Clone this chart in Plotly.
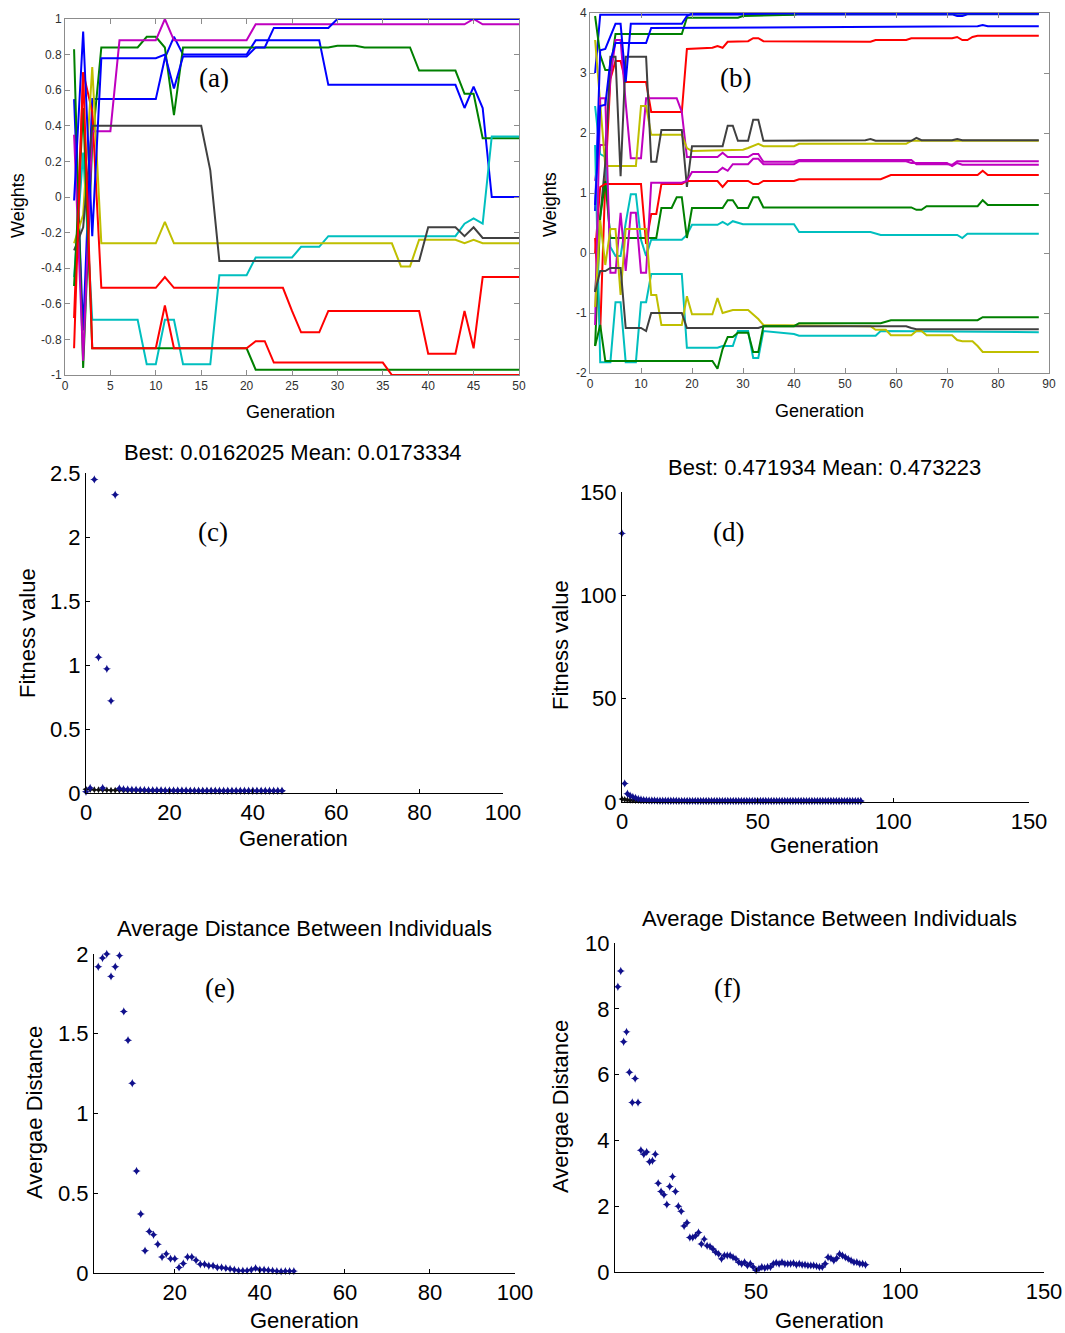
import plotly.graph_objects as go

W, H = 1065, 1333

# ---------------- Panel (a): weights vs generation (polyline vertices) ----------------
a_b1_gen = [1, 2, 3, 10, 11, 12, 13, 20, 21, 28, 29, 43, 44, 45, 46, 47, 50]
a_b1_w = [0.55, -0.75, 0.55, 0.55, 0.78, 0.9, 0.8, 0.8, 0.88, 0.88, 0.63, 0.63, 0.5, 0.62, 0.5, 0.0, 0.0]
a_g1_gen = [1, 2, 3, 4, 8, 9, 10, 11, 12, 13, 29, 30, 32, 33, 38, 39, 43, 44, 45, 46, 50]
a_g1_w = [0.83, -0.96, 0.3, 0.84, 0.84, 0.9, 0.9, 0.84, 0.46, 0.84, 0.84, 0.85, 0.85, 0.84, 0.84, 0.71, 0.71, 0.58, 0.58, 0.33, 0.33]
a_r1_gen = [1, 2, 3, 4, 10, 11, 12, 24, 25, 26, 28, 29, 39, 40, 43, 44, 45, 46, 50]
a_r1_w = [-0.68, 0.7, 0.48, -0.51, -0.51, -0.45, -0.51, -0.51, -0.64, -0.76, -0.76, -0.64, -0.64, -0.88, -0.88, -0.64, -0.85, -0.45, -0.45]
a_c1_gen = [1, 2, 3, 8, 9, 10, 11, 12, 13, 16, 17, 20, 21, 25, 26, 28, 29, 43, 44, 45, 46, 47, 50]
a_c1_w = [-0.45, 0.25, -0.69, -0.69, -0.94, -0.94, -0.69, -0.69, -0.94, -0.94, -0.44, -0.44, -0.34, -0.34, -0.28, -0.28, -0.22, -0.22, -0.15, -0.12, -0.15, 0.34, 0.34]
a_m1_gen = [1, 2, 3, 5, 6, 10, 11, 12, 20, 21, 44, 45, 46, 50]
a_m1_w = [0.35, -0.92, 0.37, 0.37, 0.88, 0.88, 1.0, 0.88, 0.88, 0.97, 0.97, 1.0, 0.97, 0.97]
a_y1_gen = [1, 2, 3, 4, 10, 11, 12, 36, 37, 38, 39, 43, 44, 45, 46, 50]
a_y1_w = [-0.26, -0.1, 0.73, -0.26, -0.26, -0.14, -0.26, -0.26, -0.39, -0.39, -0.24, -0.24, -0.26, -0.24, -0.26, -0.26]
a_k1_gen = [1, 2, 3, 15, 16, 17, 39, 40, 43, 44, 45, 46, 50]
a_k1_w = [-0.3, -0.17, 0.4, 0.4, 0.15, -0.36, -0.36, -0.17, -0.17, -0.22, -0.17, -0.23, -0.23]
a_b2_gen = [1, 2, 3, 4, 10, 11, 12, 13, 20, 21, 22, 23, 29, 30, 50]
a_b2_w = [-0.02, 0.93, -0.22, 0.78, 0.78, 0.8, 0.61, 0.79, 0.79, 0.84, 0.84, 0.95, 0.95, 1.0, 1.0]
a_g2_gen = [1, 2, 3, 20, 21, 50]
a_g2_w = [-0.5, 0.5, -0.85, -0.85, -0.97, -0.97]
a_r2_gen = [1, 2, 3, 10, 11, 12, 20, 21, 22, 23, 35, 36, 50]
a_r2_w = [-0.85, 0.7, -0.85, -0.85, -0.61, -0.85, -0.85, -0.81, -0.81, -0.93, -0.93, -1.0, -1.0]

# ---------------- Panel (b) ----------------
b_ba_gen = [1, 2, 71, 72, 73, 74, 88]
b_ba_w = [3.0, 3.97, 3.98, 3.95, 3.95, 3.98, 3.98]
b_ga_gen = [1, 2, 3, 4, 5, 18, 19, 29, 30, 40, 41, 88]
b_ga_w = [3.95, 3.3, 3.05, 3.05, 3.65, 3.65, 3.92, 3.92, 3.95, 3.97, 3.99, 3.99]
b_ra_gen = [1, 2, 3, 4, 5, 6, 7, 11, 12, 18, 19, 24, 25, 26, 27, 31, 32, 33, 34, 55, 56, 62, 63, 71, 72, 73, 74, 75, 76, 88]
b_ra_w = [0.25, -1.3, 1.2, 2.9, 3.2, 3.2, 2.85, 2.85, 2.35, 2.35, 3.4, 3.42, 3.45, 3.42, 3.52, 3.53, 3.58, 3.58, 3.53, 3.52, 3.55, 3.55, 3.58, 3.58, 3.6, 3.55, 3.55, 3.6, 3.62, 3.62]
b_ca_gen = [1, 2, 3, 4, 5, 6, 7, 8, 9, 10, 11, 12, 18, 19, 20, 25, 26, 27, 28, 29, 30, 40, 41, 55, 56, 57, 72, 73, 74, 88]
b_ca_w = [2.45, 1.65, 1.6, 0.1, -0.05, -0.05, 0.5, 0.98, 0.98, 0.22, -0.05, 0.22, 0.22, 0.3, 0.47, 0.47, 0.52, 0.47, 0.53, 0.5, 0.48, 0.48, 0.35, 0.35, 0.32, 0.3, 0.3, 0.25, 0.32, 0.32]
b_ma_gen = [1, 2, 3, 4, 5, 6, 7, 8, 10, 11, 17, 18, 19, 25, 26, 27, 31, 32, 33, 34, 40, 41, 63, 64, 70, 71, 72, 88]
b_ma_w = [1.2, 1.8, 1.8, 2.9, 3.55, 3.55, 2.5, 1.58, 1.58, 2.58, 2.58, 2.35, 1.6, 1.6, 1.67, 1.6, 1.6, 1.65, 1.65, 1.52, 1.52, 1.55, 1.55, 1.48, 1.48, 1.47, 1.53, 1.53]
b_ya_gen = [1, 2, 3, 9, 10, 11, 12, 18, 19, 20, 30, 31, 32, 33, 34, 40, 41, 62, 63, 88]
b_ya_w = [3.55, 2.5, 1.45, 1.45, 2.45, 2.45, 1.97, 1.97, 1.75, 1.7, 1.72, 1.75, 1.78, 1.82, 1.78, 1.78, 1.82, 1.82, 1.87, 1.87]
b_ka_gen = [1, 2, 3, 4, 5, 6, 7, 11, 12, 13, 14, 18, 19, 20, 26, 27, 28, 29, 31, 32, 33, 34, 54, 55, 56, 63, 64, 65, 71, 72, 73, 88]
b_ka_w = [-0.65, 0.6, 1.5, 3.27, 3.27, 1.28, 3.27, 3.27, 1.52, 1.52, 2.05, 2.05, 1.1, 1.78, 1.78, 2.12, 2.12, 1.87, 1.87, 2.22, 2.22, 1.87, 1.88, 1.9, 1.87, 1.87, 1.92, 1.88, 1.88, 1.9, 1.88, 1.88]
b_bb_gen = [1, 2, 3, 4, 5, 6, 7, 8, 18, 19, 20, 88]
b_bb_w = [0.7, 3.38, 3.4, 3.6, 3.82, 3.82, 2.85, 3.82, 3.82, 3.95, 3.99, 3.99]
b_gc_gen = [1, 2, 3, 4, 13, 14, 16, 17, 18, 19, 20, 26, 27, 28, 29, 31, 32, 33, 34, 63, 64, 65, 66, 76, 77, 78, 88]
b_gc_w = [-1.55, 0.6, 1.2, 0.25, 0.25, 0.75, 0.75, 0.93, 0.93, 0.25, 0.75, 0.75, 0.88, 0.88, 0.75, 0.75, 0.93, 0.93, 0.76, 0.76, 0.72, 0.72, 0.78, 0.78, 0.88, 0.8, 0.8]
b_rb_gen = [1, 2, 3, 10, 11, 12, 13, 14, 18, 19, 25, 26, 27, 31, 32, 33, 34, 40, 41, 57, 59, 76, 77, 78, 88]
b_rb_w = [0.0, 1.1, 1.15, 1.15, 0.15, 0.65, 0.65, 1.15, 1.15, 1.2, 1.2, 1.1, 1.2, 1.2, 1.15, 1.15, 1.2, 1.2, 1.23, 1.23, 1.3, 1.3, 1.37, 1.3, 1.3]
b_cb_gen = [1, 2, 4, 5, 6, 7, 9, 10, 11, 12, 18, 19, 25, 26, 28, 29, 31, 32, 33, 34, 40, 41, 56, 57, 88]
b_cb_w = [1.8, -1.82, -1.82, -0.82, -0.82, -1.82, -1.82, -0.82, -0.82, -0.35, -0.35, -1.58, -1.58, -1.55, -1.55, -1.3, -1.3, -1.75, -1.75, -1.3, -1.35, -1.38, -1.38, -1.3, -1.32]
b_mb_gen = [1, 2, 3, 4, 5, 6, 7, 8, 9, 10, 11, 12, 18, 19, 20, 25, 26, 27, 28, 31, 32, 33, 34, 40, 41, 62, 63, 70, 71, 72, 73, 88]
b_mb_w = [-1.2, 2.58, 2.58, -0.33, -0.33, 0.67, -0.3, 0.67, 0.67, -0.33, -0.33, 1.17, 1.17, 1.2, 1.35, 1.35, 1.42, 1.37, 1.48, 1.48, 1.57, 1.57, 1.48, 1.48, 1.53, 1.53, 1.5, 1.5, 1.45, 1.5, 1.47, 1.47]
b_yb_gen = [1, 2, 3, 4, 5, 6, 7, 11, 12, 13, 14, 18, 19, 20, 24, 25, 26, 27, 28, 31, 32, 33, 34, 55, 56, 58, 59, 63, 64, 65, 66, 71, 72, 73, 75, 76, 77, 88]
b_yb_w = [-0.9, 0.55, -0.2, 0.4, 0.4, -0.7, 0.4, 0.4, -0.7, -0.7, -1.2, -1.2, -0.72, -1.02, -1.02, -0.75, -1.0, -0.98, -0.95, -0.95, -1.02, -1.1, -1.2, -1.22, -1.28, -1.28, -1.37, -1.37, -1.3, -1.3, -1.37, -1.37, -1.45, -1.47, -1.47, -1.55, -1.65, -1.65]
b_kb_gen = [1, 2, 3, 4, 6, 7, 10, 11, 12, 18, 19, 33, 34, 62, 63, 64, 88]
b_kb_w = [-0.65, -0.3, -0.3, -0.25, -0.25, -1.25, -1.25, -1.3, -1.0, -1.0, -1.25, -1.25, -1.22, -1.22, -1.25, -1.27, -1.27]
b_bc_gen = [1, 2, 3, 4, 5, 11, 12, 48, 50, 52, 76, 77, 78, 88]
b_bc_w = [0.8, 2.45, 2.47, 3.2, 3.5, 3.5, 3.75, 3.77, 3.76, 3.77, 3.78, 3.8, 3.78, 3.78]
b_gd_gen = [1, 2, 3, 24, 25, 26, 27, 28, 29, 31, 32, 33, 34, 40, 41, 57, 59, 76, 77, 88]
b_gd_w = [-1.55, -1.2, -1.8, -1.8, -1.93, -1.6, -1.4, -1.4, -1.33, -1.33, -1.65, -1.65, -1.22, -1.22, -1.17, -1.17, -1.12, -1.12, -1.07, -1.07]

# ---------------- Panel (c): fitness, generations 0..47 ----------------
c_gen = list(range(0, 48))
c_mean = [0.01, 0.04, 2.45, 1.06, 0.04, 0.97, 0.72, 2.33, 0.035, 0.03,
          0.028, 0.026, 0.025, 0.024, 0.023, 0.022, 0.022, 0.021, 0.021, 0.02,
          0.02, 0.02, 0.0195, 0.019, 0.019, 0.0188, 0.0186, 0.0184, 0.0182, 0.018,
          0.018, 0.0179, 0.0178, 0.0178, 0.0177, 0.0177, 0.0176, 0.0176, 0.0175, 0.0175,
          0.0175, 0.0174, 0.0174, 0.0174, 0.0174, 0.0173, 0.0173, 0.0173]
c_best = [0.03, 0.028, 0.026, 0.025, 0.024, 0.023, 0.022, 0.021, 0.021, 0.02,
          0.02, 0.0195, 0.019, 0.019, 0.0185, 0.0183, 0.018, 0.018, 0.0178, 0.0176,
          0.0175, 0.0174, 0.0173, 0.0172, 0.0171, 0.017, 0.017, 0.0169, 0.0168, 0.0168,
          0.0167, 0.0167, 0.0166, 0.0166, 0.0165, 0.0165, 0.0164, 0.0164, 0.0164, 0.0163,
          0.0163, 0.0163, 0.0163, 0.0162, 0.0162, 0.0162, 0.0162, 0.0162]

# ---------------- Panel (d): fitness, generations 0..88 ----------------
d_gen = list(range(0, 89))
d_mean = [130, 9, 4, 3, 2.5, 2, 1.5, 1.2, 1.0, 0.9,
          0.8, 0.75, 0.7, 0.68, 0.65, 0.63, 0.62, 0.6, 0.59, 0.58,
          0.57, 0.56, 0.55, 0.55, 0.54, 0.54, 0.53, 0.53, 0.52, 0.52,
          0.52, 0.51, 0.51, 0.51, 0.5, 0.5, 0.5, 0.5, 0.49, 0.49,
          0.49, 0.49, 0.49, 0.48, 0.48, 0.48, 0.48, 0.48, 0.48, 0.48,
          0.48, 0.478, 0.478, 0.477, 0.477, 0.477, 0.476, 0.476, 0.476, 0.476,
          0.475, 0.475, 0.475, 0.475, 0.475, 0.474, 0.474, 0.474, 0.474, 0.474,
          0.474, 0.474, 0.474, 0.4735, 0.4735, 0.4735, 0.4735, 0.4735, 0.4735, 0.4733,
          0.4733, 0.4733, 0.4733, 0.4732, 0.4732, 0.4732, 0.4732, 0.4732, 0.4732]
d_best = [1.5, 1.2, 1.0, 0.9, 0.8, 0.75, 0.7, 0.66, 0.63, 0.6,
          0.58, 0.56, 0.55, 0.54, 0.53, 0.52, 0.52, 0.51, 0.51, 0.5,
          0.5, 0.5, 0.49, 0.49, 0.49, 0.49, 0.485, 0.485, 0.485, 0.48,
          0.48, 0.48, 0.48, 0.478, 0.478, 0.478, 0.477, 0.477, 0.477, 0.476,
          0.476, 0.476, 0.475, 0.475, 0.475, 0.475, 0.474, 0.474, 0.474, 0.474,
          0.474, 0.4735, 0.4735, 0.4735, 0.4733, 0.4733, 0.4733, 0.4731, 0.4731, 0.4731,
          0.473, 0.473, 0.473, 0.4728, 0.4728, 0.4728, 0.4726, 0.4726, 0.4726, 0.4725,
          0.4725, 0.4724, 0.4724, 0.4723, 0.4723, 0.4722, 0.4722, 0.4721, 0.4721, 0.4721,
          0.472, 0.472, 0.472, 0.472, 0.4719, 0.4719, 0.4719, 0.4719, 0.4719]

# ---------------- Panel (e): average distance, generations 2..48 ----------------
e_gen = list(range(2, 49))
e_dist = [1.92, 1.975, 2.0, 1.86, 1.92, 1.99, 1.64, 1.46, 1.19, 0.64,
          0.37, 0.14, 0.26, 0.24, 0.18, 0.10, 0.12, 0.09, 0.09, 0.035,
          0.06, 0.10, 0.10, 0.08, 0.055, 0.055, 0.045, 0.045, 0.035, 0.035,
          0.03, 0.025, 0.02, 0.015, 0.015, 0.015, 0.02, 0.03, 0.02, 0.02,
          0.018, 0.015, 0.012, 0.01, 0.012, 0.012, 0.012]

# ---------------- Panel (f): average distance, generations 2..88 ----------------
f_gen = list(range(2, 89))
f_dist = [8.67, 9.15, 7.0, 7.3, 6.07, 5.15, 5.88, 5.15, 3.7, 3.58,
          3.65, 3.35, 3.38, 3.58, 2.7, 2.45, 2.35, 2.05, 2.6, 2.9,
          2.45, 2.0, 1.85, 1.4, 1.5, 1.05, 1.05, 1.1, 1.2, 0.85,
          1.0, 0.8, 0.78, 0.7, 0.6, 0.55, 0.4, 0.5, 0.5, 0.5,
          0.45, 0.4, 0.3, 0.25, 0.3, 0.2, 0.25, 0.15, 0.05, 0.1,
          0.15, 0.12, 0.15, 0.15, 0.25, 0.28, 0.25, 0.3, 0.25, 0.25,
          0.25, 0.27, 0.22, 0.25, 0.22, 0.22, 0.2, 0.2, 0.2, 0.18,
          0.15, 0.15, 0.25, 0.45, 0.42, 0.35, 0.42, 0.55, 0.5, 0.45,
          0.4, 0.35, 0.3, 0.3, 0.25, 0.25, 0.22]

# ---------------- Tick labels ----------------
a_xticks = [0, 5, 10, 15, 20, 25, 30, 35, 40, 45, 50]
a_yticks = [-1, -0.8, -0.6, -0.4, -0.2, 0, 0.2, 0.4, 0.6, 0.8, 1]
a_ytext = ['-1', '-0.8', '-0.6', '-0.4', '-0.2', '0', '0.2', '0.4', '0.6', '0.8', '1']
b_xticks = [0, 10, 20, 30, 40, 50, 60, 70, 80, 90]
b_yticks = [-2, -1, 0, 1, 2, 3, 4]
b_ytext = ['-2', '-1', '0', '1', '2', '3', '4']
c_xticks = [0, 20, 40, 60, 80, 100]
c_yticks = [0, 0.5, 1, 1.5, 2, 2.5]
d_xticks = [0, 50, 100, 150]
d_yticks = [0, 50, 100, 150]
e_xticks = [20, 40, 60, 80, 100]
e_yticks = [0, 0.5, 1, 1.5, 2]
f_xticks = [50, 100, 150]
f_yticks = [0, 2, 4, 6, 8, 10]

COL = dict(b='#0000FF', g='#008000', r='#FF0000', c='#00BFBF', m='#BF00BF', y='#BFBF00', k='#404040')
SANS = 'Liberation Sans, Arial, sans-serif'
SERIF = 'Liberation Serif, Times New Roman, serif'

fig = go.Figure()

a_lines = [(a_b1_gen, a_b1_w, 'b'), (a_g1_gen, a_g1_w, 'g'), (a_r1_gen, a_r1_w, 'r'),
           (a_c1_gen, a_c1_w, 'c'), (a_m1_gen, a_m1_w, 'm'), (a_y1_gen, a_y1_w, 'y'),
           (a_k1_gen, a_k1_w, 'k'), (a_b2_gen, a_b2_w, 'b'), (a_g2_gen, a_g2_w, 'g'),
           (a_r2_gen, a_r2_w, 'r')]
for gx, wy, c in a_lines:
    assert len(gx) == len(wy)
    fig.add_trace(go.Scatter(x=gx, y=wy, mode='lines', line=dict(color=COL[c], width=2),
                             xaxis='x', yaxis='y', showlegend=False, hoverinfo='skip'))

b_lines = [(b_ba_gen, b_ba_w, 'b'), (b_ga_gen, b_ga_w, 'g'), (b_ra_gen, b_ra_w, 'r'),
           (b_ca_gen, b_ca_w, 'c'), (b_ma_gen, b_ma_w, 'm'), (b_ya_gen, b_ya_w, 'y'),
           (b_ka_gen, b_ka_w, 'k'), (b_bb_gen, b_bb_w, 'b'), (b_gc_gen, b_gc_w, 'g'),
           (b_rb_gen, b_rb_w, 'r'), (b_cb_gen, b_cb_w, 'c'), (b_mb_gen, b_mb_w, 'm'),
           (b_yb_gen, b_yb_w, 'y'), (b_kb_gen, b_kb_w, 'k'), (b_bc_gen, b_bc_w, 'b'),
           (b_gd_gen, b_gd_w, 'g')]
for gx, wy, c in b_lines:
    assert len(gx) == len(wy)
    fig.add_trace(go.Scatter(x=gx, y=wy, mode='lines', line=dict(color=COL[c], width=2),
                             xaxis='x2', yaxis='y2', showlegend=False, hoverinfo='skip'))

assert len(c_gen) == len(c_mean) == len(c_best)
assert len(d_gen) == len(d_mean) == len(d_best)
assert len(e_gen) == len(e_dist)
assert len(f_gen) == len(f_dist)

DOT = '#10108c'
mk = dict(symbol='star-diamond', size=6, color=DOT, line=dict(width=0))
mk_best = dict(symbol='star-diamond', size=5, color='#101010', line=dict(width=0))

fig.add_trace(go.Scatter(x=c_gen, y=c_best, mode='markers', marker=mk_best, xaxis='x3', yaxis='y3',
                         cliponaxis=False, showlegend=False))
fig.add_trace(go.Scatter(x=c_gen, y=c_mean, mode='markers', marker=mk, xaxis='x3', yaxis='y3',
                         cliponaxis=False, showlegend=False))
fig.add_trace(go.Scatter(x=d_gen, y=d_best, mode='markers', marker=mk_best, xaxis='x4', yaxis='y4',
                         cliponaxis=False, showlegend=False))
fig.add_trace(go.Scatter(x=d_gen, y=d_mean, mode='markers', marker=mk, xaxis='x4', yaxis='y4',
                         cliponaxis=False, showlegend=False))
fig.add_trace(go.Scatter(x=e_gen, y=e_dist, mode='markers', marker=mk, xaxis='x5', yaxis='y5',
                         cliponaxis=False, showlegend=False))
fig.add_trace(go.Scatter(x=f_gen, y=f_dist, mode='markers', marker=mk, xaxis='x6', yaxis='y6',
                         cliponaxis=False, showlegend=False))


def dx(p0, p1):
    return [p0 / W, p1 / W]


def dy(top, bottom):
    return [1 - bottom / H, 1 - top / H]


def box_axis(domain, rng, tickvals, ticktext, anchor):
    return dict(domain=domain, range=rng, tickvals=tickvals, ticktext=ticktext, anchor=anchor,
                ticks='inside', ticklen=5, tickcolor='#8c8c8c', showline=True, mirror='ticks',
                linecolor='#8c8c8c', linewidth=1, showgrid=False, zeroline=False,
                tickfont=dict(family=SANS, size=12, color='#303030'), automargin=False)


def open_axis(domain, rng, tickvals, ticktext, anchor):
    return dict(domain=domain, range=rng, tickvals=tickvals, ticktext=ticktext, anchor=anchor,
                ticks='inside', ticklen=4, tickcolor='#000000', showline=True, mirror=False,
                linecolor='#000000', linewidth=1, showgrid=False, zeroline=False,
                tickfont=dict(family=SANS, size=22, color='#000000'), automargin=False)


fig.update_layout(
    width=W, height=H, margin=dict(l=0, r=0, t=0, b=0),
    paper_bgcolor='white', plot_bgcolor='white', showlegend=False,
    xaxis=box_axis(dx(65, 519), [0, 50], a_xticks, [str(v) for v in a_xticks], 'y'),
    yaxis=box_axis(dy(19, 375), [-1, 1], a_yticks, a_ytext, 'x'),
    xaxis2=box_axis(dx(590, 1049), [0, 90], b_xticks, [str(v) for v in b_xticks], 'y2'),
    yaxis2=box_axis(dy(13, 373), [-2, 4], b_yticks, b_ytext, 'x2'),
    xaxis3=open_axis(dx(86, 503), [0, 100], c_xticks, [str(v) for v in c_xticks], 'y3'),
    yaxis3=open_axis(dy(473, 793), [0, 2.5], c_yticks, ['0', '0.5', '1', '1.5', '2', '2.5'], 'x3'),
    xaxis4=open_axis(dx(622, 1029), [0, 150], d_xticks, [str(v) for v in d_xticks], 'y4'),
    yaxis4=open_axis(dy(492, 802), [0, 150], d_yticks, [str(v) for v in d_yticks], 'x4'),
    xaxis5=open_axis(dx(94, 515), [1, 100], e_xticks, [str(v) for v in e_xticks], 'y5'),
    yaxis5=open_axis(dy(954, 1273), [0, 2], e_yticks, ['0', '0.5', '1', '1.5', '2'], 'x5'),
    xaxis6=open_axis(dx(615, 1044), [1, 150], f_xticks, [str(v) for v in f_xticks], 'y6'),
    yaxis6=open_axis(dy(943, 1272), [0, 10], f_yticks, [str(v) for v in f_yticks], 'x6'),
)


def ann(text, px, py, size, family=SANS, angle=0, color='#000000'):
    fig.add_annotation(text=text, x=px / W, y=1 - py / H, xref='paper', yref='paper',
                       showarrow=False, textangle=angle, xanchor='center', yanchor='middle',
                       font=dict(family=family, size=size, color=color))


# panel letters
ann('(a)', 214, 78, 27, SERIF)
ann('(b)', 735, 78, 27, SERIF)
ann('(c)', 213, 532, 27, SERIF)
ann('(d)', 728, 532, 27, SERIF)
ann('(e)', 220, 988, 27, SERIF)
ann('(f)', 727, 988, 27, SERIF)

# axis titles (a), (b)
ann('Weights', 18, 205, 18, angle=-90)
ann('Generation', 290, 412, 18)
ann('Weights', 550, 205, 18, angle=-90)
ann('Generation', 819, 411, 18)

# titles and axis titles (c)-(f)
ann('Best: 0.0162025 Mean: 0.0173334', 293, 452, 22)
ann('Fitness value', 27, 633, 22, angle=-90)
ann('Generation', 293, 838, 22)
ann('Best: 0.471934 Mean: 0.473223', 824, 468, 22)
ann('Fitness value', 560, 645, 22, angle=-90)
ann('Generation', 824, 846, 22)
ann('Average Distance Between Individuals', 304, 928, 22)
ann('Avergae Distance', 34, 1113, 22, angle=-90)
ann('Generation', 304, 1320, 22)
ann('Average Distance Between Individuals', 829, 918, 22)
ann('Avergae Distance', 560, 1107, 22, angle=-90)
ann('Generation', 829, 1320, 22)

fig.write_html('out.html', config={'displayModeBar': False, 'staticPlot': True},
               post_script="document.body.style.margin='0px';document.body.style.padding='0px';"
                           "document.documentElement.style.overflow='hidden';")
